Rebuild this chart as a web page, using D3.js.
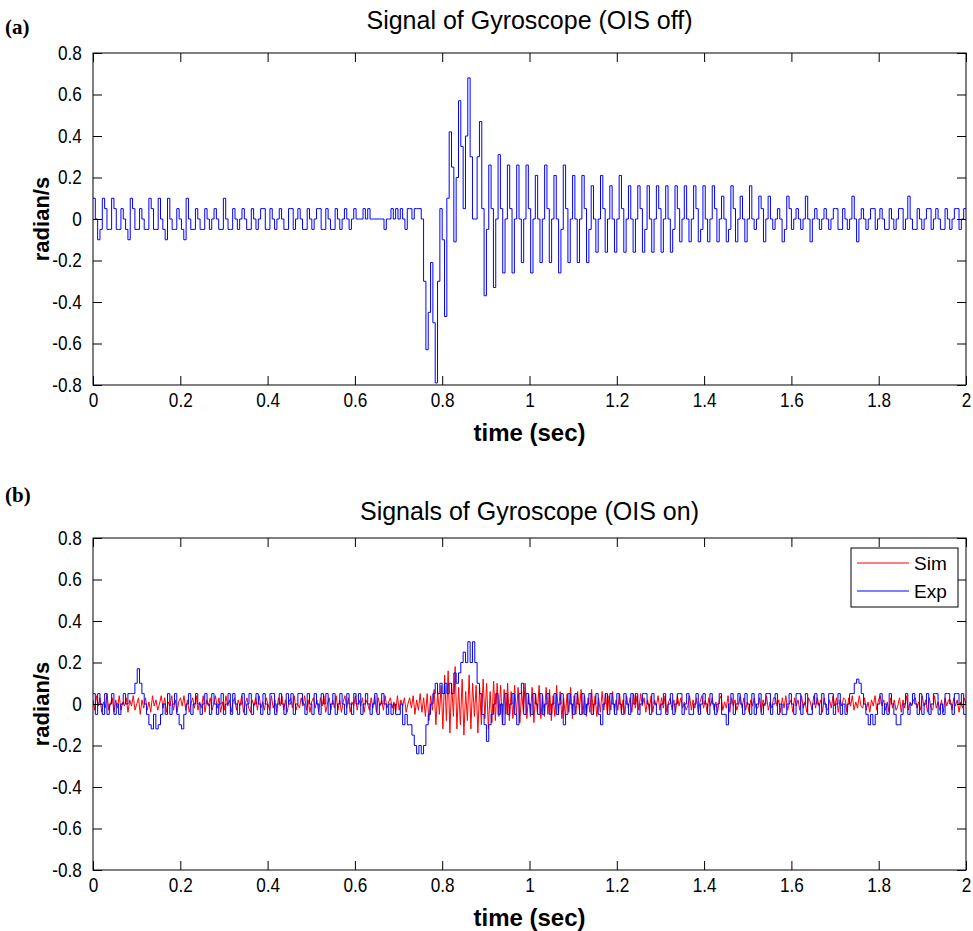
<!DOCTYPE html>
<html><head><meta charset="utf-8">
<script src="https://cdn.jsdelivr.net/npm/d3@7"></script>
<style>
body{margin:0;background:#fff}
text{fill:#000}
</style>
</head><body>
<svg id="chart" width="973" height="931"></svg>
<script>
// ---------- data (signal values in units of 0.01 rad/s) ----------
const xTickValues = [0, 0.2, 0.4, 0.6, 0.8, 1, 1.2, 1.4, 1.6, 1.8, 2];
const yTickValues = [-0.8, -0.6, -0.4, -0.2, 0, 0.2, 0.4, 0.6, 0.8];
const timeDomain = [0, 2];
const valueDomain = [-0.8, 0.8];
const valueUnit = 0.01;

// (a) gyroscope, OIS off – sampled uniformly over 0..2 s
const gyroOisOff = [
10,0,-10,-5, 10,5,-5,-5, 10,5,-5,-5, 5,0,-5,-10, 10,5,-5,-5, 5,0,-5,-5, 10,5,-5,-5, 10,0,-5,-10, 10,0,-5,-5, 5,0,-5,-10,
10,0,-5,-5, 5,0,-5,-5, 5,0,-5,0, 5,0,-5,-5, 10,0,-5,-5, 5,0,-5,0, 5,0,-5,-5, 5,0,-5,0, 5,5,-5,-5, 5,0,-5,0,
5,0,-5,-5, 5,5,-5,0, 5,0,-5,-5, 5,0,-5,0, 5,5,-5,-5, 5,0,-5,-5, 5,0,-5,0, 5,0,-5,0, 5,0,0,0, 5,0,5,0,
0,0,0,0, 0,-5,0,0, 5,0,5,0, 5,0,-5,5, 5,0,5,5, 5,0,-30,-63, -45,-21,-50,-79, -30,5,-10,-47, 10,42,25,-11, 20,57,35,5,
40,68,30,0, 0,30,47,5, -37,-5,26,5, -33,0,31,5, -26,0,26,5, -26,0,26,0, -21,0,26,5, -26,0,21,0, -21,0,26,5, -21,0,21,0,
-26,-5,26,5, -21,0,21,0, -21,0,21,5, -21,-5,16,0, -16,0,21,5, -16,0,16,0, -16,0,21,5, -16,0,16,0, -16,0,16,5, -16,-5,16,0,
-16,0,16,5, -16,0,16,0, -16,-5,16,5, -11,0,16,0, -11,0,16,5, -11,-5,16,0, -11,0,16,5, -11,0,11,0, -11,-5,16,5, -11,0,11,0,
-11,0,16,0, -5,0,11,5, -11,0,11,0, -5,0,5,0, -11,-5,11,5, -5,0,5,0, -5,0,11,0, -11,0,5,0, -5,0,5,0, -5,0,5,5,
-5,-5,5,0, -5,0,11,0, -11,0,5,0, -5,0,5,5, -5,0,5,0, -5,-5,5,0, -5,0,5,5, -5,0,11,0, -5,-5,5,0, -5,0,5,5,
-5,0,5,0, -5,-5,5,0, -5,0,5,5, -5,0,5,5
];

// (b) gyroscope, OIS on – experiment
const gyroOisOnExp = [
5,-5,5,0,-5,5,-5,0,   5,-5,0,-5,0,5,0,5,   5,5,10,17,10,5,0,-5,   -10,-12,-5,-12,-10,-5,0,-5,
5,-5,0,5,-5,-10,-12,-5,   0,5,-5,0,5,0,-5,0,   5,0,-5,5,0,-5,0,5,   -5,0,5,-5,5,0,-5,0,
5,-5,0,5,-5,0,5,0,   -5,5,0,-5,5,5,-5,0,   5,0,-5,5,0,5,-5,0,   5,5,0,-5,5,0,-5,5,
0,-5,5,0,5,-5,0,5,   -5,0,5,0,-5,5,0,-5,   5,0,5,-5,0,5,0,-5,   0,5,-5,0,5,0,-5,0,
-5,0,-5,-5,0,-10,-5,-10,   -10,-15,-20,-24,-20,-24,-20,-10,   -5,0,5,10,5,10,5,10,   5,10,5,15,10,15,20,25,
20,30,20,30,20,10,5,-5,   -10,-18,-10,-5,0,5,-5,0,   -10,5,-5,0,5,-5,-10,5,   10,-5,5,0,-5,5,0,-5,
5,-5,0,5,-5,0,5,-5,   0,5,-10,-5,5,0,-5,5,   0,-5,5,-5,0,5,-5,0,   5,-5,-10,0,5,-5,5,0,
-5,5,0,-5,5,0,-5,5,   0,5,-5,0,5,5,0,-5,   5,0,-5,-5,0,5,-5,0,   5,-5,0,5,5,-5,0,5,
-5,-5,0,5,-5,0,5,0,   -5,5,0,-5,0,5,-5,-5,   -10,0,5,-5,0,5,0,-5,   5,0,-5,5,-5,0,5,-5,
0,5,5,-5,0,5,-5,0,   -5,-5,0,5,0,-5,5,5,   -5,0,5,-5,-5,0,5,0,   -5,5,0,-5,5,5,-5,0,
5,-5,0,-5,0,5,5,10,   12,10,5,0,-5,-10,-5,-10,   -5,0,5,-5,0,-5,5,0,   -5,-10,-10,-5,0,5,-5,0,
5,0,-5,5,-5,0,5,-5,   0,5,5,-5,0,-5,5,5,   0,-5,5,5,0,5,-5,-5
];

// (b) gyroscope, OIS on – simulation
const gyroOisOnSim = [
2,-3,4,-1,3,-4,1,-2,5,-3, 0,3,-4,2,-2,4,-3,1,-1,3, -4,2,-1,4,-3,0,3,-5,2,-2, 3,-3,1,-4,4,-1,2,-3,0,4,
-2,3,-4,1,-1,4,-3,2,-4,1, 3,-1,4,-3,2,-4,0,3,-2,4, -3,1,-2,4,-4,2,-1,3,-3,0, 4,-2,3,-4,1,-3,4,-1,2,-4,
1,3,-3,2,-1,4,-4,0,3,-2, -4,2,-1,3,-3,4,-2,1,-3,3, 0,-3,4,-2,2,-4,3,-1,4,-3, 2,-4,1,3,-2,4,-3,0,-2,3,
-1,4,-3,2,-4,1,3,-2,2,-4, 3,-1,4,-4,0,3,-3,2,-2,4, -3,2,-4,1,4,-2,3,-4,1,-1, 4,-3,2,-1,3,-4,2,0,-3,3,
-2,4,-4,3,-1,2,-3,4,-2,1, 3,-2,1,-4,4,-3,2,-1,3,-4, 0,3,-2,4,-5,2,-3,5,-4,3, -6,5,-8,4,-3,7,-10,6,-5,9,
-12,14,-8,16,-14,10,-6,18,-12,8, -10,12,-15,6,-8,14,-12,10,-6,9, -14,8,-10,12,-7,10,-12,6,-9,11, -8,10,-6,9,-10,7,-5,10,-8,6,
-7,9,-5,8,-9,6,-4,10,-7,5, -6,8,-9,5,-4,9,-7,4,-6,8, -5,7,-8,4,-6,9,-5,6,-7,3, -6,5,-4,8,-7,4,-5,6,-3,7,
-5,4,-6,3,-4,7,-5,4,-6,3, -4,6,-3,5,-5,4,-3,6,-4,2, -3,5,-4,2,-5,4,-2,3,-4,5, -2,4,-3,5,-1,3,-4,2,-3,4,
-4,2,-1,4,-3,3,-2,4,-4,1, 3,-3,2,-4,4,-1,3,-2,1,-3, -1,4,-3,2,-2,3,-4,1,4,-2, 2,-4,3,-1,3,-3,1,-4,2,4,
-3,1,-2,4,-4,3,-1,2,-3,0, 4,-2,3,-3,1,-4,2,-1,3,-2, -2,3,-4,2,-1,4,-3,1,-2,3, 3,-1,2,-4,3,-2,4,-3,0,2,
-4,3,-1,2,-3,4,-2,1,-4,3, 1,-3,4,-2,3,-1,2,-4,3,-2, -3,2,-2,4,-1,3,-4,2,-1,3, 2,-4,3,-1,4,-3,1,-2,4,-1,
-2,3,-3,1,-4,2,-1,4,-3,2, 4,-1,2,-3,1,-4,3,-2,2,-3, -1,3,-4,2,-2,4,-3,1,-1,2, 3,-2,1,-3,4,-1,2,-4,3,-2,
-3,4,-2,1,-3,2,-4,3,-1,2, 2,-3,3,-1,2,-4,1,-2,3,0
];

const legendLabels = ["Sim", "Exp"];

// ---------- drawing ----------
const sans = '"Liberation Sans", Arial, Helvetica, sans-serif';
const serif = '"Liberation Serif", "Times New Roman", serif';
const svg = d3.select("#chart").style("font-family", sans);
const plotLeft = 93, plotRight = 966;

const panels = [
  { tag: "(a)", title: "Signal of Gyroscope (OIS off)", top: 53, bottom: 385, tagY: 34, titleY: 29,
    series: [{ values: gyroOisOff, color: "#0000ff", step: true }], legend: false },
  { tag: "(b)", title: "Signals of Gyroscope (OIS on)", top: 538, bottom: 870, tagY: 502, titleY: 520,
    series: [{ values: gyroOisOnSim, color: "#ff0000", step: false },
             { values: gyroOisOnExp, color: "#0000ff", step: true }], legend: true }
];

const fmt = d => String(+(+d).toFixed(1));
const squeeze = "scale(0.86,1)";

panels.forEach((p, pi) => {
  const x = d3.scaleLinear().domain(timeDomain).range([plotLeft, plotRight]);
  const y = d3.scaleLinear().domain(valueDomain).range([p.bottom, p.top]);
  const g = svg.append("g");

  const clipId = "clip" + pi;
  svg.append("clipPath").attr("id", clipId).append("rect")
    .attr("x", plotLeft).attr("y", p.top).attr("width", plotRight - plotLeft).attr("height", p.bottom - p.top);

  // series
  p.series.forEach(s => {
    const n = s.values.length;
    const pts = s.values.map((v, i) => [timeDomain[0] + i * (timeDomain[1] - timeDomain[0]) / (n - 1), v * valueUnit]);
    const line = d3.line().x(d => x(d[0])).y(d => y(d[1]))
      .curve(s.step ? d3.curveStepAfter : d3.curveLinear);
    g.append("path").attr("d", line(pts)).attr("fill", "none")
      .attr("stroke", s.color).attr("stroke-width", 1).attr("clip-path", `url(#${clipId})`);
  });

  // axes (ticks inward on all four sides)
  const tickLen = 9;
  const ax = [
    g.append("g").attr("transform", `translate(0,${p.bottom})`)
      .call(d3.axisBottom(x).tickValues(xTickValues).tickFormat(fmt).tickSizeInner(-tickLen).tickSizeOuter(0).tickPadding(8)),
    g.append("g").attr("transform", `translate(0,${p.top})`)
      .call(d3.axisTop(x).tickValues(xTickValues).tickFormat("").tickSizeInner(-tickLen).tickSizeOuter(0)),
    g.append("g").attr("transform", `translate(${plotLeft},0)`)
      .call(d3.axisLeft(y).tickValues(yTickValues).tickFormat(fmt).tickSizeInner(-tickLen).tickSizeOuter(0).tickPadding(13)),
    g.append("g").attr("transform", `translate(${plotRight},0)`)
      .call(d3.axisRight(y).tickValues(yTickValues).tickFormat("").tickSizeInner(-tickLen).tickSizeOuter(0))
  ];
  ax.forEach(a => {
    a.attr("font-family", null).attr("font-size", null);
    a.select(".domain").remove();
    a.selectAll("line").attr("stroke", "#000");
    a.selectAll("text").style("font-family", sans).style("font-size", "20px")
      .attr("fill", "#000").attr("transform", squeeze);
  });

  g.append("rect").attr("x", plotLeft).attr("y", p.top)
    .attr("width", plotRight - plotLeft).attr("height", p.bottom - p.top)
    .attr("fill", "none").attr("stroke", "#000").attr("stroke-width", 1);

  // titles & labels
  g.append("text").attr("x", (plotLeft + plotRight) / 2).attr("y", p.titleY)
    .attr("text-anchor", "middle").style("font-size", "25px").text(p.title);
  g.append("text").attr("x", 5).attr("y", p.tagY)
    .style("font-family", serif).style("font-weight", "bold")
    .style("font-size", "21px").text(p.tag);
  g.append("text").attr("x", (plotLeft + plotRight) / 2).attr("y", p.bottom + 56)
    .attr("text-anchor", "middle").style("font-size", "24px").style("font-weight", "bold").text("time (sec)");
  g.append("text").attr("transform", `translate(49,${(p.top + p.bottom) / 2}) rotate(-90)`)
    .attr("text-anchor", "middle").style("font-size", "22px").style("font-weight", "bold").text("radian/s");

  if (p.legend) {
    const lx = 851, ly = p.top + 10, lw = 107, lh = 59;
    const lg = g.append("g");
    lg.append("rect").attr("x", lx).attr("y", ly).attr("width", lw).attr("height", lh)
      .attr("fill", "#fff").attr("stroke", "#000");
    p.series.forEach((s, i) => {
      const yy = ly + 15 + i * 28;
      lg.append("line").attr("x1", lx + 6).attr("x2", lx + 58).attr("y1", yy).attr("y2", yy)
        .attr("stroke", s.color).attr("stroke-width", 1);
      lg.append("text").attr("x", lx + 63).attr("y", yy + 7).style("font-size", "19px").text(legendLabels[i]);
    });
  }
});
</script>
</body></html>
